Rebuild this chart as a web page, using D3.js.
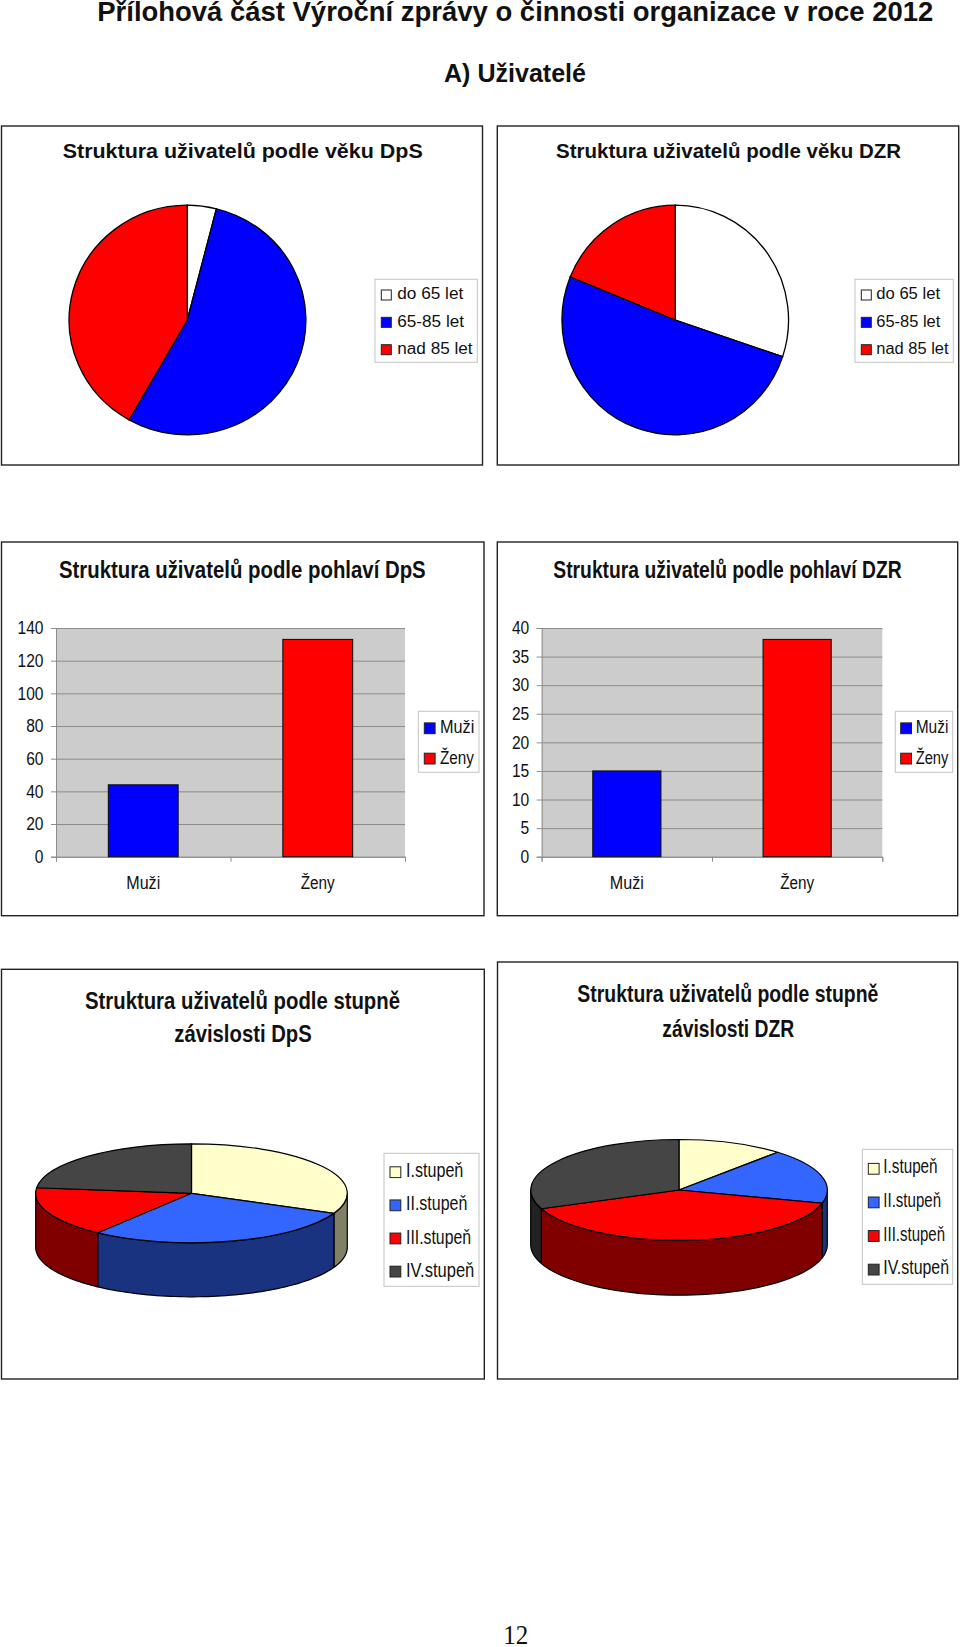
<!DOCTYPE html>
<html lang="cs"><head><meta charset="utf-8">
<script src="https://cdn.jsdelivr.net/npm/d3@7/dist/d3.min.js"></script>
<style>html,body{margin:0;padding:0;background:#fff}svg{display:block}text{font-family:"Liberation Sans",Arial,sans-serif;fill:#111}</style>
</head><body><div id="chart"></div>
<script>
// ---------- data ----------
const ageLabels = ["do 65 let", "65-85 let", "nad 85 let"];
const ageDpS = [7, 96, 74];
const ageDZR = [16, 27, 10];
const genderLabels = ["Muži", "Ženy"];
const genderDpS = [44, 133];
const genderDZR = [15, 38];
const ticksDpS = [0, 20, 40, 60, 80, 100, 120, 140];
const ticksDZR = [0, 5, 10, 15, 20, 25, 30, 35, 40];
const careLabels = ["I.stupeň", "II.stupeň", "III.stupeň", "IV.stupeň"];
const careDpS = [56, 50.7, 29.2, 41.1];
const careDZR = [6.14, 9.35, 21.05, 16.46];

const ageColors = ["#ffffff", "#0000ff", "#ff0000"];
const genderColors = ["#0000ff", "#ff0000"];
const careColors = ["#ffffcc", "#3366ff", "#ff0000", "#454545"];
const careSideColors = ["#808066", "#1a3380", "#800000", "#222222"];

// ---------- helpers ----------
const svg = d3.select("#chart").append("svg").attr("width", 960).attr("height", 1647).attr("viewBox", "0 0 960 1647");

function text(x, y, str, size, width, opts = {}) {
  const t = svg.append("text").attr("x", x).attr("y", y).attr("font-size", size)
    .attr("font-weight", opts.bold ? 700 : 400).attr("text-anchor", opts.anchor || "start").text(str);
  if (opts.family) t.style("font-family", opts.family);
  if (width) t.attr("textLength", width).attr("lengthAdjust", "spacingAndGlyphs");
  return t;
}
function panel(x0, y0, x1, y1) {
  svg.append("rect").attr("x", x0).attr("y", y0).attr("width", x1 - x0).attr("height", y1 - y0)
    .attr("fill", "#fff").attr("stroke", "#222").attr("stroke-width", 1.4);
}
function legend(box, labels, colors, L) {
  svg.append("rect").attr("x", box[0]).attr("y", box[1]).attr("width", box[2] - box[0]).attr("height", box[3] - box[1])
    .attr("fill", "#fff").attr("stroke", "#c4c4c4").attr("stroke-width", 1);
  const row = d3.scalePoint().domain(labels).range([L.first, L.last]);
  labels.forEach((d, i) => {
    svg.append("rect").attr("x", L.sx).attr("y", row(d) - L.ss).attr("width", L.ss).attr("height", L.ss)
      .attr("fill", colors[i]).attr("stroke", "#222").attr("stroke-width", 1);
    text(L.tx, row(d) + L.dy, d, L.size, L.widths[i]);
  });
}
function flatPie(values, colors, cx, cy, rx, ry) {
  const arcs = d3.pie().sort(null)(values);
  const arc = d3.arc().innerRadius(0).outerRadius(1);
  svg.append("g").attr("transform", `translate(${cx},${cy}) scale(${rx},${ry})`)
    .selectAll("path").data(arcs).join("path")
    .attr("d", arc).attr("fill", (d, i) => colors[i])
    .attr("stroke", "#000").attr("stroke-width", 1.3).attr("vector-effect", "non-scaling-stroke");
}
function pie3d(values, colors, sides, cx, cy, rx, ry, depth) {
  const arcs = d3.pie().sort(null)(values);
  const arc = d3.arc().innerRadius(0).outerRadius(1);
  const line = d3.line();
  const lo = Math.PI / 2, hi = 3 * Math.PI / 2;
  const px = a => cx + rx * Math.sin(a), py = a => cy - ry * Math.cos(a);
  arcs.forEach((d, i) => {
    const a0 = Math.max(d.startAngle, lo), a1 = Math.min(d.endAngle, hi);
    if (a1 <= a0) return;
    const n = 60;
    const angles = d3.range(n + 1).map(k => a0 + (a1 - a0) * k / n);
    const pts = angles.map(a => [px(a), py(a)]).concat(angles.slice().reverse().map(a => [px(a), py(a) + depth]));
    svg.append("path").attr("d", line(pts) + "Z").attr("fill", sides[i])
      .attr("stroke", "#000").attr("stroke-width", 1.2).attr("stroke-linejoin", "round");
  });
  svg.append("g").attr("transform", `translate(${cx},${cy}) scale(${rx},${ry})`)
    .selectAll("path").data(arcs).join("path")
    .attr("d", arc).attr("fill", (d, i) => colors[i])
    .attr("stroke", "#000").attr("stroke-width", 1.2).attr("vector-effect", "non-scaling-stroke");
}
function barChart(values, ticks, maxV, P) {
  const y = d3.scaleLinear().domain([0, maxV]).range([P.bottom, P.top]);
  const x = d3.scaleBand().domain(genderLabels).range([P.left, P.right]).paddingInner(P.pad).paddingOuter(P.pad / 2);
  svg.append("rect").attr("x", P.left).attr("y", P.top).attr("width", P.right - P.left).attr("height", P.bottom - P.top).attr("fill", "#cccccc");
  // gridlines + value labels
  const yAxis = svg.append("g").attr("transform", `translate(${P.left},0)`)
    .call(d3.axisLeft(y).tickValues(ticks).tickSize(5).tickPadding(7.5).tickFormat(d3.format("d")));
  yAxis.selectAll("path,line").attr("stroke", "#8c8c8c").attr("stroke-width", 1);
  yAxis.selectAll("text").attr("font-size", 18).style("font-family", null)
    .each(function () { this.setAttribute("textLength", this.getComputedTextLength() * 0.865); this.setAttribute("lengthAdjust", "spacingAndGlyphs"); });
  svg.append("g").attr("transform", `translate(${P.left},0)`)
    .call(d3.axisLeft(y).tickValues(ticks).tickSize(-(P.right - P.left)).tickFormat(""))
    .call(g => g.select(".domain").remove())
    .selectAll("line").attr("stroke", "#8c8c8c").attr("stroke-width", 1);
  // category boundary ticks
  const edge = d3.scalePoint().domain([0, 1, 2]).range([P.left, P.right]);
  svg.append("g").attr("transform", `translate(0,${P.bottom})`)
    .call(d3.axisBottom(edge).tickSize(5).tickFormat(""))
    .selectAll("path,line").attr("stroke", "#8c8c8c").attr("stroke-width", 1);
  svg.selectAll(null).data(values).enter().append("rect")
    .attr("x", (d, i) => x(genderLabels[i])).attr("y", d => y(d))
    .attr("width", x.bandwidth()).attr("height", d => y(0) - y(d))
    .attr("fill", (d, i) => genderColors[i]).attr("stroke", "#111").attr("stroke-width", 1.1);
  // category labels
  const xAxis = svg.append("g").attr("transform", `translate(0,${P.bottom})`)
    .call(d3.axisBottom(x).tickSize(0).tickPadding(19.5));
  xAxis.select(".domain").remove();
  xAxis.selectAll("text").attr("font-size", 18).style("font-family", null)
    .attr("textLength", 34).attr("lengthAdjust", "spacingAndGlyphs");
}

// ---------- page headings ----------
text(97.3, 21, "Přílohová část Výroční zprávy o činnosti organizace v roce 2012", 27, 836, { bold: true });
text(444, 82, "A) Uživatelé", 25, 142, { bold: true });
text(503.3, 1644, "12", 27.5, 25, { family: '"Liberation Serif", serif' });

// ---------- age pies ----------
panel(1.5, 126, 482.5, 465);
text(62.7, 157.5, "Struktura uživatelů podle věku DpS", 20, 360, { bold: true });
flatPie(ageDpS, ageColors, 187.3, 320, 118.3, 114.8);
legend([375, 279.3, 477.3, 362.3], ageLabels, ageColors,
  { sx: 381.3, ss: 10, first: 300, last: 354.7, tx: 397.3, dy: -0.7, size: 16, widths: [66, 66.7, 75.3] });

panel(497.3, 126, 958.7, 465);
text(556, 157.5, "Struktura uživatelů podle věku DZR", 20, 345, { bold: true });
flatPie(ageDZR, ageColors, 675.3, 320, 113.3, 114.8);
legend([855, 279.3, 953.3, 362.3], ageLabels, ageColors,
  { sx: 861.3, ss: 10, first: 300, last: 354.7, tx: 876.3, dy: -0.7, size: 16, widths: [63.7, 64, 72.3] });

// ---------- gender bars ----------
panel(1.5, 542, 484, 915.7);
text(59, 578, "Struktura uživatelů podle pohlaví DpS", 23, 366.7, { bold: true });
barChart(genderDpS, ticksDpS, 140, { left: 56, right: 405, top: 628, bottom: 856.7, pad: 0.6 });
legend([418.3, 711.3, 479, 772.3], genderLabels, genderColors,
  { sx: 424.3, ss: 10.8, first: 733.7, last: 764, tx: 440, dy: -0.4, size: 19, widths: [34.3, 34] });

panel(497.3, 542, 957.7, 915.7);
text(553.3, 578, "Struktura uživatelů podle pohlaví DZR", 23, 348.4, { bold: true });
barChart(genderDZR, ticksDZR, 40, { left: 541.7, right: 882.3, top: 628, bottom: 856.7, pad: 0.6 });
legend([895.3, 711.3, 952.7, 772.3], genderLabels, genderColors,
  { sx: 900.7, ss: 10.8, first: 733.7, last: 764, tx: 915.7, dy: -0.4, size: 19, widths: [32.7, 32.7] });

// ---------- care-level 3D pies ----------
panel(1.5, 969.3, 484.3, 1379);
text(85, 1009, "Struktura uživatelů podle stupně", 24, 315, { bold: true });
text(174.3, 1041.7, "závislosti DpS", 24, 137.4, { bold: true });
pie3d(careDpS, careColors, careSideColors, 191.5, 1193.3, 155.8, 49.5, 54);
legend([384, 1153.3, 479, 1286.3], careLabels, careColors,
  { sx: 390, ss: 10.8, first: 1177.6, last: 1277, tx: 406, dy: -0.3, size: 20, widths: [57.3, 61.3, 65, 68.3] });

panel(497.5, 962, 957.7, 1379);
text(577.3, 1002.3, "Struktura uživatelů podle stupně", 24, 301, { bold: true });
text(662.3, 1036.7, "závislosti DZR", 24, 132, { bold: true });
pie3d(careDZR, careColors, careSideColors, 679, 1190, 148.3, 50.5, 54.7);
legend([862.3, 1149.3, 952.7, 1284.3], careLabels, careColors,
  { sx: 868.3, ss: 10.8, first: 1174.2, last: 1275, tx: 883.3, dy: -0.9, size: 20, widths: [54.3, 57.7, 61.7, 65.7] });
</script></body></html>
